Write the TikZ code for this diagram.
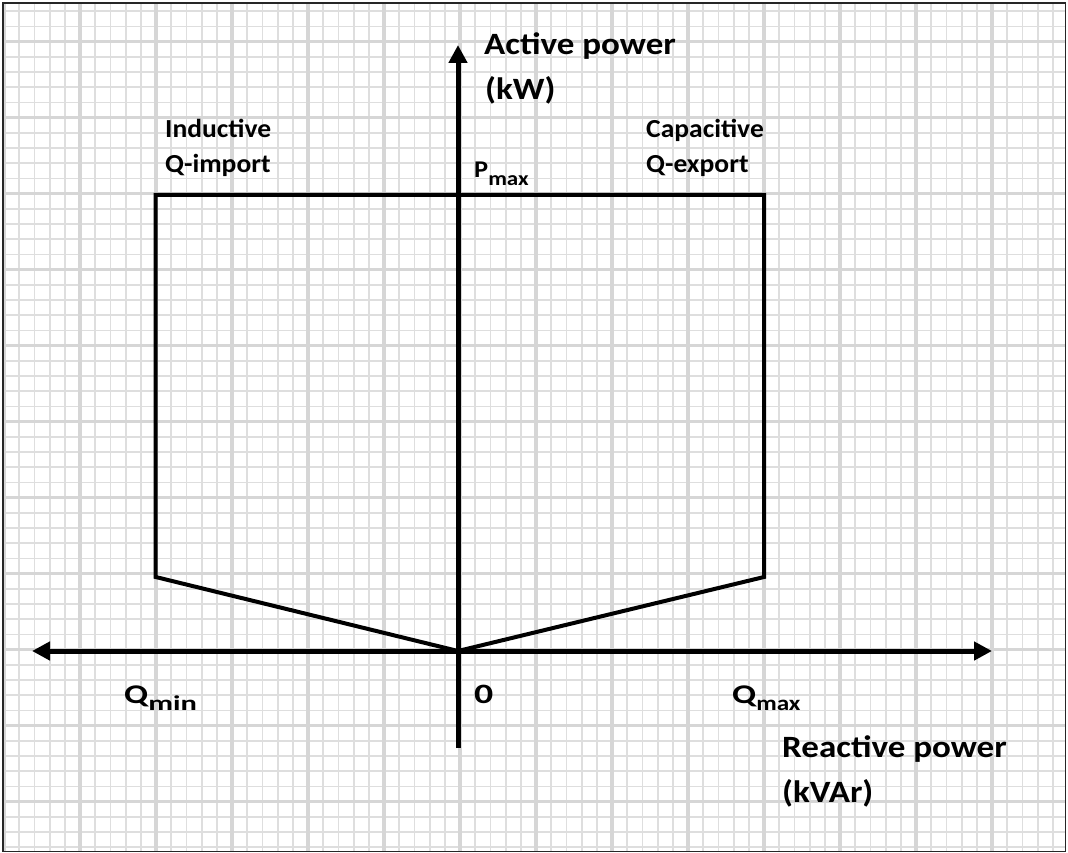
\documentclass[tikz,border=0pt]{standalone}
\usepackage{fontspec}
\usepackage{graphicx}
\setmainfont{Carlito}
\usetikzlibrary{arrows.meta}

\definecolor{gridmajor}{HTML}{D6D6D6}
\definecolor{gridminor}{HTML}{DEDEDE}

\tikzset{
  minorline/.style={draw=gridminor, line width=1.8pt},
  majorline/.style={draw=gridmajor, line width=3.4pt},
  frameline/.style={draw=black!85, line width=1.5pt},
  axisline/.style={draw=black, line width=5pt,
    arrows={-Triangle[length=18pt,width=18pt]}},
  region/.style={draw=black, line width=4pt, line join=miter},
  label/.style={inner sep=0pt, anchor=base west, font=\fontsize{26}{30}\selectfont\bfseries},
  title/.style={inner sep=0pt, anchor=base west, font=\fontsize{31}{36}\selectfont\bfseries},
  coordlabel/.style={inner sep=0pt, anchor=base west, font=\fontsize{27}{30}\selectfont\bfseries},
}
% horizontally widened text
\newcommand{\widen}[2]{\scalebox{#1}[1]{#2}}
% lowered subscript in a smaller size
\newcommand{\lowsub}[3]{\raisebox{-#1}{\fontsize{#2}{#2}\selectfont #3}}

\begin{document}
\begin{tikzpicture}[x=1pt, y=-1pt]
\useasboundingbox (0,0) rectangle (1068,853);
\fill[white] (0,0) rectangle (1068,853);

% graph paper
\begin{scope}
  \clip (3,3) rectangle (1065.7,851.7);
  \foreach \i in {0,...,70}
    \draw[minorline] ({4+15.2*\i},0) -- ({4+15.2*\i},853);
  \foreach \j in {-1,...,55}
    \draw[minorline] (0,{11.3+15.2*\j}) -- (1068,{11.3+15.2*\j});
  \foreach \k in {0,...,14}
    \draw[majorline] ({4+76*\k},0) -- ({4+76*\k},853);
  \foreach \k in {-1,...,10}
    \draw[majorline] (0,{41.7+76*\k}) -- (1068,{41.7+76*\k});
\end{scope}
\draw[frameline] (3,3) rectangle (1065.7,851.7);

% axes
\coordinate (O) at (458,651);
\coordinate (ytop) at (458,45);
\coordinate (ybot) at (458,748);
\coordinate (xleft) at (32,651);
\coordinate (xright) at (992,651);
\draw[axisline] (ybot) -- (ytop);
\draw[axisline, arrows={Triangle[length=18pt,width=18pt]-Triangle[length=18pt,width=18pt]}] (xleft) -- (xright);

% operating region
\coordinate (lowL) at (155.7,577);
\coordinate (topL) at (155.7,195);
\coordinate (topR) at (764,195);
\coordinate (lowR) at (764,577);
\draw[region] (O) -- (lowL) -- (topL) -- (topR) -- (lowR) -- cycle;

% axis titles
\node[title] (act1) at (484,55) {\widen{1.13}{Active power}};
\node[title] (act2) at (485,100) {\widen{1.13}{(kW)}};
\node[title] (rea1) at (782,757) {\widen{1.13}{Reactive power}};
\node[title] (rea2) at (782,802) {\widen{1.13}{(kVAr)}};

% quadrant notes
\node[label] (ind1) at (165,138) {\widen{1.06}{Inductive}};
\node[label] (ind2) at (165,173) {\widen{1.06}{Q-import}};
\node[label] (cap1) at (646,138) {\widen{1.06}{Capacitive}};
\node[label] (cap2) at (646,173) {\widen{1.06}{Q-export}};

% limits
\node[label, font=\fontsize{24}{28}\selectfont\bfseries] (pmax) at (474,178)
  {\widen{1.1}{P}\lowsub{8pt}{20pt}{\widen{1.15}{max}}};
\node[coordlabel] (qmin) at (124,703)
  {\widen{1.3}{Q}\lowsub{7pt}{21pt}{\widen{1.45}{min}}};
\node[coordlabel, font=\fontsize{28}{30}\selectfont\bfseries] (zero) at (474,703) {\widen{1.35}{0}};
\node[coordlabel] (qmax) at (732,703)
  {\widen{1.3}{Q}\lowsub{7pt}{21pt}{\widen{1.2}{max}}};
\end{tikzpicture}
\end{document}
